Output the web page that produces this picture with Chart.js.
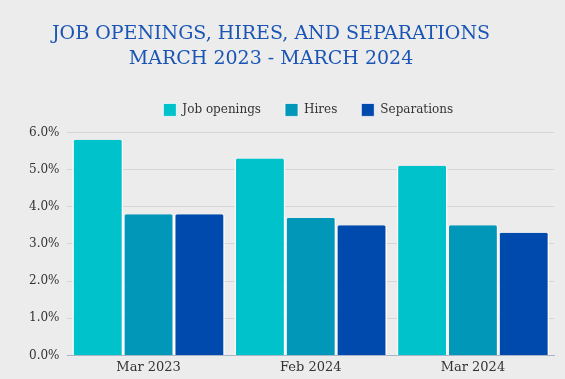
<!DOCTYPE html>
<html>
<head>
<meta charset="utf-8">
<script src="https://cdn.jsdelivr.net/npm/chart.js@4"></script>
<style>
  html, body { margin: 0; padding: 0; background: #ececec; }
  #wrap { width: 565px; height: 379px; position: relative; }
</style>
</head>
<body>
<div id="wrap"><canvas id="chart"></canvas></div>
<script>
const months = ["Mar 2023", "Feb 2024", "Mar 2024"];
const jobOpenings = [5.8, 5.3, 5.1];
const hires = [3.8, 3.7, 3.5];
const separations = [3.8, 3.5, 3.3];
const yTicks = [0, 1, 2, 3, 4, 5, 6];

const serif = "'DejaVu Serif', serif";

function series(label, data, color) {
  return {
    label: label,
    data: data,
    backgroundColor: color,
    borderColor: "#ffffff",
    borderWidth: { left: 1.5, right: 1.5, top: 0, bottom: 0 },
    borderRadius: { topLeft: 3, topRight: 3 },
    borderSkipped: "bottom",
    barPercentage: 1,
    categoryPercentage: 0.94
  };
}

// title sits a little left of centre, legend is centred over the plot
const shiftBlocks = {
  id: "shiftBlocks",
  afterInit(chart) {
    const fit = chart.legend.fit;
    chart.legend.fit = function () {
      fit.call(this);
      this.height += 6;
    };
  },
  afterLayout(chart) {
    chart.titleBlock.left = 0;
    chart.titleBlock.right = 542;
    chart.legend.left = chart.chartArea.left - 5;
    chart.legend.right = chart.chartArea.right;
  }
};

new Chart(document.getElementById("chart").getContext("2d"), {
  type: "bar",
  data: {
    labels: months,
    datasets: [
      series("Job openings", jobOpenings, "#00c2cb"),
      series("Hires", hires, "#0097b9"),
      series("Separations", separations, "#004aad")
    ]
  },
  plugins: [shiftBlocks],
  options: {
    responsive: true,
    maintainAspectRatio: false,
    animation: false,
    layout: { padding: { left: 21, right: 11, top: 22, bottom: 0 } },
    plugins: {
      title: {
        display: true,
        text: ["JOB OPENINGS, HIRES, AND SEPARATIONS", "MARCH 2023 - MARCH 2024"],
        color: "#1a55b5",
        font: { family: serif, size: 19, weight: "normal", lineHeight: 1.3 },
        padding: { top: 0, bottom: 8 }
      },
      legend: {
        labels: {
          boxWidth: 13,
          boxHeight: 13,
          padding: 24,
          color: "#333333",
          font: { family: serif, size: 12 }
        }
      },
      tooltip: { enabled: false }
    },
    scales: {
      x: {
        grid: { display: false, drawTicks: false },
        border: { color: "#a9b5c8", width: 1 },
        ticks: { color: "#333333", font: { family: serif, size: 13 }, padding: 4 }
      },
      y: {
        min: 0,
        max: 6,
        afterBuildTicks: (axis) => { axis.ticks = yTicks.map(v => ({ value: v })); },
        grid: { color: "#d6d6d6", drawTicks: false },
        border: { display: false },
        ticks: {
          color: "#333333",
          padding: 8,
          font: { family: serif, size: 12 },
          callback: (v) => Number(v).toFixed(1) + "%"
        }
      }
    }
  }
});
</script>
</body>
</html>
